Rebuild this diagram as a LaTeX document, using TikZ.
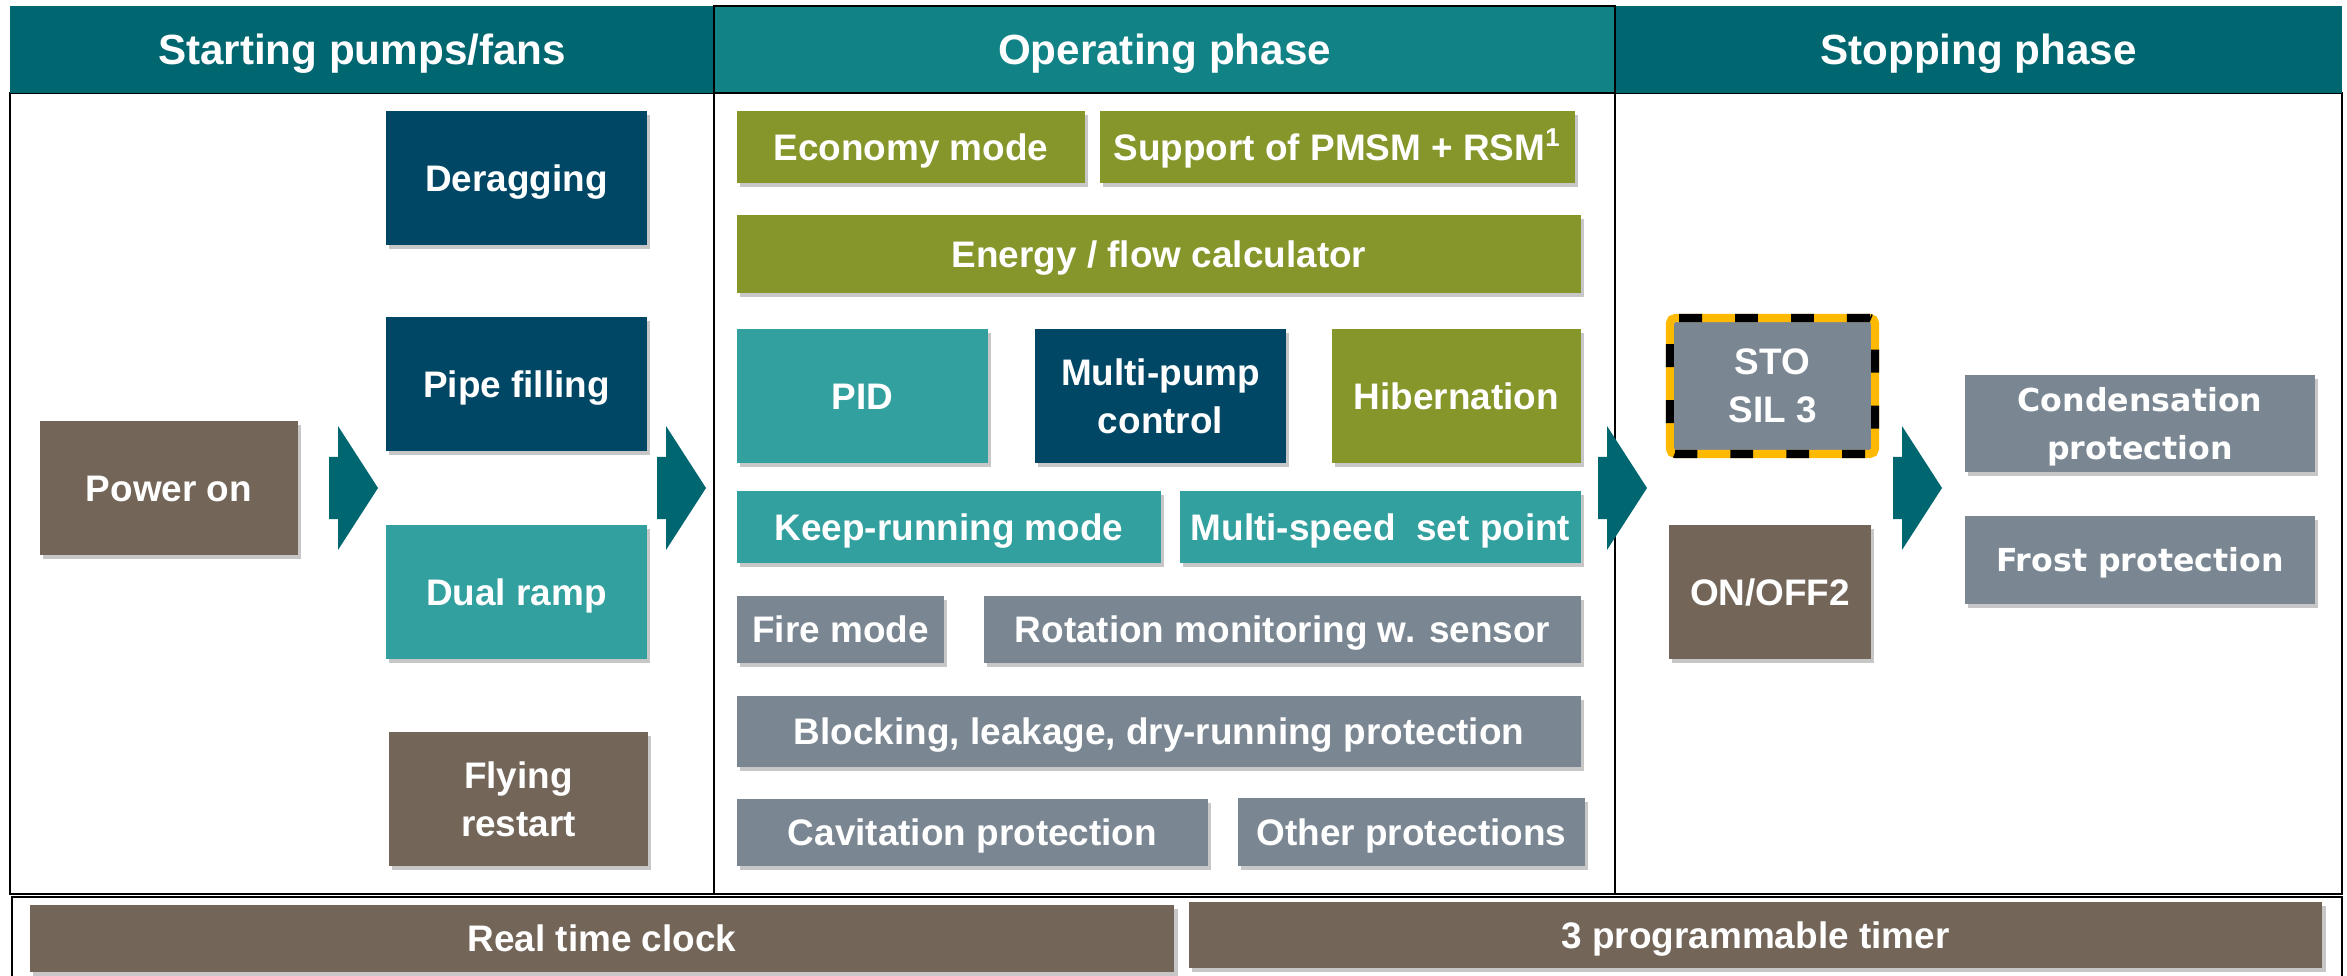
\documentclass[tikz,border=0pt]{standalone}
\usepackage{fontspec}
\setmainfont{Liberation Sans}
\newfontfamily\verdfont{DejaVu Sans}
\usetikzlibrary{shadows}
\definecolor{hdrA}{HTML}{00666F}
\definecolor{hdrB}{HTML}{118387}
\definecolor{cBlue}{HTML}{004766}
\definecolor{cTeal}{HTML}{33A0A0}
\definecolor{cOlive}{HTML}{86962A}
\definecolor{cGray}{HTML}{7A8793}
\definecolor{cBrown}{HTML}{736558}
\definecolor{cYellow}{HTML}{FFB900}
\newcommand\bx[7]{%
  \node[#6, minimum width={(#4-#2)*0.284528pt}, minimum height={(#5-#3)*0.284528pt}]
    (#1) at ({(#2+#4)/2},{(#3+#5)/2}) {#7};}
\begin{document}
\begin{tikzpicture}[x=0.01cm,y=-0.01cm,
  base/.style={inner sep=0pt, outer sep=0pt, text=white, align=center,
    font=\bfseries\fontsize{10.5}{13.7}\selectfont},
  one/.style={text height=7.52pt, text depth=0pt},
  hdr/.style={base, font=\bfseries\fontsize{12}{14}\selectfont, text height=8.6pt, text depth=0pt},
  box/.style={base, drop shadow={shadow xshift=0.9pt, shadow yshift=-1.1pt, opacity=0.22, fill=black}},
  verd/.style={font=\verdfont\bfseries\fontsize{9}{13.4}\selectfont},
  frame/.style={draw=black, line width=0.6pt},
  stoborder/.style={draw=cYellow, line width=2.3pt, rounded corners=1.5pt,
    postaction={draw=black, line width=2.3pt, rounded corners=1.5pt, dash pattern=on 6.5pt off 9.4pt}},
  chev/.style={fill=hdrA}
]
\useasboundingbox (0,0) rectangle (2347,976);

% frames
\draw[frame] (10,93) rectangle (2342,894);
\draw[frame] (714,93) -- (714,894);
\draw[frame] (1615,93) -- (1615,894);
\draw[frame] (12,976) -- (12,897) -- (2342,897) -- (2342,976);

% headers
\bx{h1}{10}{6}{714}{93}{hdr, fill=hdrA}{Starting pumps/fans}
\bx{h3}{1615}{6}{2342}{93}{hdr, fill=hdrA}{Stopping phase}
\bx{h2}{714}{6}{1615}{93}{hdr, fill=hdrB, draw=black, line width=0.6pt}{Operating phase}

% starting column
\bx{power}{40}{421}{298}{555}{box, one, fill=cBrown}{Power on}
\bx{derag}{386}{111}{647}{245}{box, one, fill=cBlue}{Deragging}
\bx{pipe}{386}{317}{647}{451}{box, one, fill=cBlue}{Pipe filling}
\bx{dual}{386}{525}{647}{659}{box, one, fill=cTeal}{Dual ramp}
\bx{fly}{389}{732}{648}{866}{box, fill=cBrown}{Flying\\restart}

% operating column
\bx{eco}{737}{111}{1085}{183}{box, one, fill=cOlive}{Economy mode}
\bx{pmsm}{1100}{111}{1575}{183}{box, one, fill=cOlive}{Support of PMSM + RSM\textsuperscript{1}}
\bx{energy}{737}{215}{1581}{293}{box, one, fill=cOlive}{Energy / flow calculator}
\bx{pid}{737}{329}{988}{463}{box, one, fill=cTeal}{PID}
\bx{multi}{1035}{329}{1286}{463}{box, fill=cBlue}{Multi-pump\\control}
\bx{hib}{1332}{329}{1581}{463}{box, one, fill=cOlive}{Hibernation}
\bx{keep}{737}{491}{1161}{563}{box, one, fill=cTeal}{Keep-running mode}
\bx{mspeed}{1180}{491}{1581}{563}{box, one, fill=cTeal}{Multi-speed~ set point}
\bx{fire}{737}{596}{944}{663}{box, one, fill=cGray}{Fire mode}
\bx{rot}{984}{596}{1581}{663}{box, one, fill=cGray}{Rotation monitoring w. sensor}
\bx{block}{737}{696}{1581}{767}{box, one, fill=cGray}{Blocking, leakage, dry-running protection}
\bx{cav}{737}{799}{1208}{866}{box, one, fill=cGray}{Cavitation protection}
\bx{other}{1238}{798}{1585}{866}{box, one, fill=cGray}{Other protections}

% stopping column
\bx{sto}{1670}{318}{1875}{454}{base, fill=cGray, stoborder}{STO\\SIL 3}
\bx{onoff}{1669}{525}{1871}{659}{box, one, fill=cBrown}{ON/OFF2}
\bx{cond}{1965}{375}{2315}{472}{box, fill=cGray, verd, text depth=0pt}{Condensation\\protection}
\bx{frost}{1965}{516}{2315}{604}{box, fill=cGray, verd, text height=6.56pt, text depth=0pt}{Frost protection}

% bottom row
\bx{rtc}{30}{905}{1174}{972}{box, one, fill=cBrown}{Real time clock}
\bx{timer}{1189}{902}{2322}{968}{box, one, fill=cBrown}{3 programmable timer}

% chevron arrows
\foreach \xx in {329,657,1598,1893}
  \fill[chev, shift={(\xx,0)}] (0,457) -- (9,457) -- (9,426) -- (49,488) -- (9,550) -- (9,519) -- (0,519) -- cycle;
\end{tikzpicture}
\end{document}
